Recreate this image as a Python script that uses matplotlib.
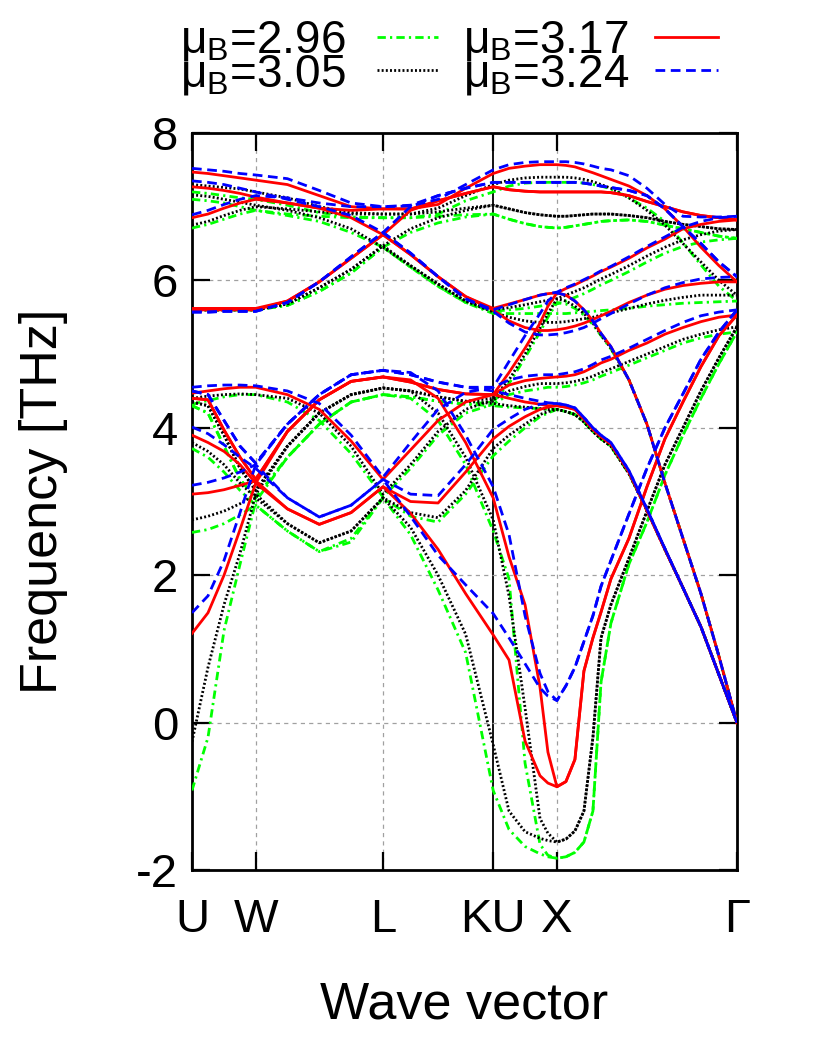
import matplotlib
matplotlib.use('Agg')
import matplotlib.pyplot as plt
from matplotlib.lines import Line2D

plt.rcParams['font.family'] = ['Liberation Sans', 'DejaVu Sans']
plt.rcParams['mathtext.fontset'] = 'custom'
plt.rcParams['mathtext.rm'] = 'Liberation Sans'
plt.rcParams['mathtext.it'] = 'Liberation Sans'
plt.rcParams['lines.scale_dashes'] = False

# ---- path (wave-vector distance, units of 2pi/a) ----
k_path = [0.0, 0.089, 0.178, 0.267, 0.354, 0.530, 0.707, 0.884, 1.061, 1.214,
          1.367, 1.520, 1.673, 1.761, 1.850, 1.933, 1.977, 2.027, 2.077, 2.127,
          2.177, 2.227, 2.272, 2.327, 2.427, 2.527, 2.627, 2.727, 2.827, 2.927, 3.027]
tick_pos = [0.0, 0.354, 1.061, 1.673, 2.027, 3.027]
tick_labels = ['U', 'W', 'L', 'KU', 'X', 'Γ']
y_ticks = [-2, 0, 2, 4, 6, 8]

# ---- phonon branches (THz) ----
bands_296 = [
    [-0.92, -0.2, 1.25, 2.15, 3.0, 3.6, 4.05, 4.35, 4.45, 4.4, 4.1, 3.5, 2.6, 1.95, -0.55, -1.65, -1.8, -1.84, -1.82, -1.76, -1.62, -1.2, 0.55, 1.35, 2.15, 2.72, 3.36, 3.9, 4.4, 4.87, 5.3],
    [2.58, 2.62, 2.7, 2.82, 2.95, 2.6, 2.32, 2.5, 3.05, 2.55, 1.8, 0.95, -0.92, -1.45, -1.68, -1.78, -1.82, -1.84, -1.82, -1.76, -1.62, -1.2, 0.55, 1.35, 2.15, 2.72, 3.36, 3.9, 4.4, 4.87, 5.3],
    [3.72, 3.6, 3.4, 3.15, 2.95, 2.6, 2.32, 2.45, 3.05, 2.8, 2.72, 3.1, 3.62, 3.82, 4.0, 4.15, 4.2, 4.25, 4.22, 4.18, 4.08, 3.95, 3.85, 3.75, 3.38, 2.88, 2.35, 1.83, 1.3, 0.65, 0.0],
    [4.3, 4.2, 3.75, 3.3, 3.05, 3.6, 4.05, 4.35, 4.45, 4.42, 4.36, 4.32, 4.3, 4.28, 4.27, 4.26, 4.25, 4.25, 4.22, 4.18, 4.08, 3.95, 3.85, 3.75, 3.38, 2.88, 2.35, 1.83, 1.3, 0.65, 0.0],
    [4.32, 4.37, 4.42, 4.45, 4.45, 4.35, 4.1, 3.65, 3.06, 3.45, 3.9, 4.2, 4.32, 4.45, 4.5, 4.53, 4.55, 4.55, 4.56, 4.58, 4.61, 4.65, 4.7, 4.75, 4.85, 4.95, 5.05, 5.15, 5.22, 5.27, 5.3],
    [4.3, 4.2, 3.75, 3.3, 3.05, 3.6, 4.05, 4.35, 4.45, 4.42, 4.36, 4.32, 4.35, 4.6, 4.95, 5.3, 5.5, 5.7, 5.68, 5.62, 5.53, 5.4, 5.25, 5.07, 4.65, 4.05, 3.25, 2.5, 1.75, 0.9, 0.0],
    [7.2, 7.18, 7.15, 7.12, 7.1, 7.02, 6.92, 6.86, 6.85, 6.85, 6.9, 7.08, 7.2, 7.28, 7.32, 7.33, 7.33, 7.33, 7.33, 7.33, 7.32, 7.3, 7.28, 7.24, 7.12, 6.98, 6.8, 6.51, 6.21, 5.92, 5.72],
    [7.1, 7.08, 7.05, 7.0, 6.95, 6.88, 6.8, 6.65, 6.45, 6.18, 5.92, 5.7, 5.55, 5.55, 5.55, 5.55, 5.55, 5.55, 5.55, 5.56, 5.57, 5.58, 5.59, 5.6, 5.62, 5.65, 5.67, 5.69, 5.7, 5.71, 5.72],
    [5.6, 5.6, 5.6, 5.6, 5.6, 5.66, 5.85, 6.1, 6.45, 6.65, 6.78, 6.86, 6.9, 6.83, 6.77, 6.73, 6.72, 6.71, 6.72, 6.74, 6.76, 6.78, 6.8, 6.81, 6.82, 6.8, 6.75, 6.7, 6.65, 6.6, 6.57],
    [5.6, 5.6, 5.6, 5.6, 5.6, 5.66, 5.85, 6.1, 6.45, 6.18, 5.92, 5.7, 5.58, 5.6, 5.62, 5.65, 5.67, 5.68, 5.72, 5.77, 5.82, 5.88, 5.94, 6.0, 6.12, 6.25, 6.37, 6.46, 6.52, 6.55, 6.57],
    [6.71, 6.76, 6.83, 6.9, 6.95, 6.9, 6.87, 6.85, 6.85, 6.85, 6.87, 6.89, 6.9, 6.83, 6.77, 6.73, 6.72, 6.71, 6.72, 6.74, 6.76, 6.78, 6.8, 6.81, 6.82, 6.8, 6.75, 6.7, 6.65, 6.6, 6.57],
]

bands_305 = [
    [-0.26, 0.75, 1.6, 2.3, 3.1, 3.75, 4.2, 4.45, 4.54, 4.5, 4.2, 3.6, 2.75, 1.72, 0.2, -1.3, -1.5, -1.62, -1.58, -1.47, -1.2, -0.2, 1.15, 1.6, 2.23, 2.87, 3.5, 4.0, 4.5, 4.95, 5.37],
    [2.75, 2.8, 2.87, 2.97, 3.1, 2.7, 2.44, 2.6, 3.05, 2.65, 2.0, 1.2, -0.3, -1.2, -1.48, -1.57, -1.6, -1.62, -1.58, -1.47, -1.2, -0.2, 1.15, 1.6, 2.23, 2.87, 3.5, 4.0, 4.5, 4.95, 5.37],
    [3.8, 3.68, 3.5, 3.25, 3.05, 2.7, 2.44, 2.6, 3.05, 2.85, 2.78, 3.15, 3.72, 3.9, 4.05, 4.18, 4.22, 4.25, 4.22, 4.18, 4.08, 3.95, 3.85, 3.75, 3.38, 2.88, 2.35, 1.83, 1.3, 0.65, 0.0],
    [4.35, 4.3, 3.9, 3.45, 3.15, 3.75, 4.2, 4.45, 4.54, 4.5, 4.42, 4.36, 4.33, 4.3, 4.28, 4.26, 4.25, 4.25, 4.22, 4.18, 4.08, 3.95, 3.85, 3.75, 3.38, 2.88, 2.35, 1.83, 1.3, 0.65, 0.0],
    [4.4, 4.43, 4.45, 4.46, 4.45, 4.4, 4.2, 3.75, 3.1, 3.5, 3.95, 4.25, 4.38, 4.5, 4.56, 4.6, 4.6, 4.6, 4.61, 4.63, 4.66, 4.7, 4.75, 4.8, 4.9, 5.0, 5.1, 5.2, 5.27, 5.33, 5.37],
    [4.35, 4.3, 3.9, 3.45, 3.15, 3.75, 4.2, 4.45, 4.54, 4.5, 4.42, 4.36, 4.4, 4.65, 5.0, 5.35, 5.55, 5.75, 5.72, 5.65, 5.55, 5.42, 5.26, 5.08, 4.65, 4.05, 3.25, 2.5, 1.75, 0.9, 0.0],
    [7.3, 7.28, 7.26, 7.24, 7.2, 7.12, 7.0, 6.92, 6.9, 6.9, 6.98, 7.15, 7.3, 7.36, 7.39, 7.4, 7.4, 7.4, 7.4, 7.39, 7.37, 7.34, 7.3, 7.25, 7.12, 6.95, 6.75, 6.5, 6.25, 6.0, 5.8],
    [7.16, 7.14, 7.1, 7.06, 7.02, 6.95, 6.85, 6.7, 6.45, 6.2, 5.95, 5.72, 5.57, 5.5, 5.45, 5.43, 5.43, 5.43, 5.44, 5.46, 5.48, 5.5, 5.53, 5.56, 5.62, 5.68, 5.73, 5.77, 5.8, 5.8, 5.8],
    [5.6, 5.6, 5.6, 5.6, 5.6, 5.68, 5.9, 6.15, 6.47, 6.7, 6.85, 6.95, 7.02, 6.97, 6.92, 6.89, 6.88, 6.87, 6.87, 6.88, 6.89, 6.9, 6.9, 6.9, 6.88, 6.85, 6.8, 6.76, 6.73, 6.7, 6.69],
    [5.6, 5.6, 5.6, 5.6, 5.6, 5.68, 5.9, 6.15, 6.47, 6.2, 5.95, 5.72, 5.6, 5.63, 5.67, 5.71, 5.73, 5.75, 5.8, 5.85, 5.9, 5.96, 6.02, 6.08, 6.2, 6.33, 6.45, 6.55, 6.62, 6.67, 6.69],
    [6.75, 6.8, 6.88, 6.95, 7.0, 6.97, 6.93, 6.9, 6.9, 6.9, 6.93, 6.98, 7.02, 6.97, 6.92, 6.89, 6.88, 6.87, 6.87, 6.88, 6.89, 6.9, 6.9, 6.9, 6.88, 6.85, 6.8, 6.76, 6.73, 6.7, 6.69],
]

bands_317 = [
    [1.21, 1.49, 2.0, 2.62, 3.25, 3.95, 4.38, 4.63, 4.69, 4.65, 4.4, 3.8, 3.05, 2.25, 1.6, 0.48, -0.4, -0.87, -0.8, -0.5, 0.7, 1.15, 1.5, 1.95, 2.5, 3.2, 3.85, 4.35, 4.83, 5.25, 5.53],
    [3.1, 3.12, 3.16, 3.22, 3.28, 2.9, 2.69, 2.85, 3.2, 2.84, 2.35, 1.75, 1.19, 0.85, -0.25, -0.72, -0.82, -0.87, -0.8, -0.5, 0.7, 1.15, 1.5, 1.95, 2.5, 3.2, 3.85, 4.35, 4.83, 5.25, 5.53],
    [3.9, 3.8, 3.68, 3.5, 3.25, 2.9, 2.69, 2.85, 3.2, 3.0, 2.98, 3.4, 3.85, 4.02, 4.15, 4.25, 4.28, 4.3, 4.28, 4.25, 4.12, 3.98, 3.88, 3.78, 3.4, 2.88, 2.35, 1.83, 1.3, 0.65, 0.0],
    [4.4, 4.38, 3.97, 3.6, 3.3, 3.95, 4.38, 4.63, 4.69, 4.62, 4.52, 4.46, 4.45, 4.4, 4.35, 4.32, 4.3, 4.3, 4.28, 4.25, 4.12, 3.98, 3.88, 3.78, 3.4, 2.88, 2.35, 1.83, 1.3, 0.65, 0.0],
    [4.47, 4.5, 4.53, 4.55, 4.55, 4.45, 4.25, 3.82, 3.3, 3.7, 4.1, 4.35, 4.45, 4.58, 4.64, 4.67, 4.68, 4.69, 4.7, 4.72, 4.76, 4.82, 4.88, 4.93, 5.05, 5.15, 5.27, 5.36, 5.44, 5.5, 5.53],
    [4.4, 4.38, 3.97, 3.6, 3.3, 3.95, 4.38, 4.63, 4.69, 4.62, 4.52, 4.46, 4.45, 4.75, 5.08, 5.42, 5.65, 5.83, 5.8, 5.72, 5.6, 5.45, 5.28, 5.1, 4.65, 4.05, 3.25, 2.5, 1.75, 0.9, 0.0],
    [7.47, 7.45, 7.42, 7.39, 7.36, 7.3, 7.15, 7.0, 6.97, 6.97, 7.03, 7.25, 7.45, 7.52, 7.55, 7.57, 7.57, 7.57, 7.56, 7.54, 7.5, 7.46, 7.42, 7.37, 7.28, 7.15, 6.97, 6.73, 6.45, 6.2, 5.98],
    [7.27, 7.25, 7.22, 7.18, 7.13, 7.05, 6.98, 6.85, 6.62, 6.35, 6.05, 5.78, 5.6, 5.45, 5.36, 5.32, 5.32, 5.33, 5.35, 5.38, 5.42, 5.47, 5.52, 5.58, 5.7, 5.8, 5.88, 5.93, 5.96, 5.98, 5.98],
    [5.62, 5.62, 5.62, 5.62, 5.62, 5.72, 5.98, 6.3, 6.62, 6.95, 7.08, 7.18, 7.27, 7.23, 7.21, 7.2, 7.2, 7.2, 7.2, 7.2, 7.2, 7.2, 7.2, 7.19, 7.15, 7.07, 7.0, 6.93, 6.88, 6.85, 6.82],
    [5.6, 5.6, 5.6, 5.6, 5.6, 5.72, 5.98, 6.3, 6.62, 6.35, 6.05, 5.78, 5.62, 5.68, 5.74, 5.8, 5.82, 5.83, 5.89, 5.94, 6.0, 6.06, 6.12, 6.18, 6.3, 6.44, 6.56, 6.7, 6.76, 6.8, 6.82],
    [6.85, 6.9, 6.98, 7.05, 7.1, 7.05, 6.98, 6.95, 6.97, 6.97, 7.08, 7.18, 7.27, 7.23, 7.21, 7.2, 7.2, 7.2, 7.2, 7.2, 7.2, 7.2, 7.2, 7.19, 7.15, 7.07, 7.0, 6.93, 6.88, 6.85, 6.82],
]

bands_324 = [
    [1.49, 1.72, 2.2, 2.85, 3.5, 4.05, 4.45, 4.72, 4.78, 4.75, 4.5, 3.9, 3.2, 2.55, 1.45, 0.67, 0.42, 0.3, 0.5, 0.75, 1.1, 1.45, 1.85, 2.2, 2.83, 3.45, 4.0, 4.46, 4.93, 5.3, 5.6],
    [3.22, 3.26, 3.32, 3.4, 3.5, 3.05, 2.79, 2.95, 3.3, 2.8, 2.27, 1.87, 1.48, 1.15, 0.8, 0.47, 0.36, 0.3, 0.5, 0.75, 1.1, 1.45, 1.85, 2.2, 2.83, 3.45, 4.0, 4.46, 4.93, 5.3, 5.6],
    [4.01, 3.92, 3.77, 3.6, 3.45, 3.05, 2.79, 2.95, 3.3, 3.1, 3.08, 3.5, 3.98, 4.12, 4.25, 4.32, 4.33, 4.33, 4.31, 4.27, 4.14, 4.0, 3.9, 3.8, 3.42, 2.9, 2.36, 1.83, 1.3, 0.65, 0.0],
    [4.5, 4.45, 4.1, 3.75, 3.52, 4.05, 4.45, 4.72, 4.78, 4.72, 4.62, 4.55, 4.5, 4.45, 4.4, 4.36, 4.34, 4.33, 4.31, 4.27, 4.14, 4.0, 3.9, 3.8, 3.42, 2.9, 2.36, 1.83, 1.3, 0.65, 0.0],
    [4.55, 4.57, 4.58, 4.58, 4.57, 4.5, 4.33, 3.9, 3.33, 3.8, 4.25, 4.48, 4.55, 4.65, 4.7, 4.72, 4.72, 4.72, 4.74, 4.76, 4.8, 4.86, 4.92, 4.97, 5.08, 5.2, 5.32, 5.43, 5.52, 5.57, 5.6],
    [4.5, 4.45, 4.1, 3.75, 3.52, 4.05, 4.45, 4.72, 4.78, 4.72, 4.62, 4.55, 4.55, 4.9, 5.25, 5.55, 5.72, 5.83, 5.8, 5.72, 5.6, 5.45, 5.28, 5.1, 4.65, 4.05, 3.25, 2.5, 1.75, 0.9, 0.0],
    [7.52, 7.5, 7.48, 7.45, 7.43, 7.38, 7.22, 7.05, 7.0, 7.01, 7.1, 7.3, 7.5, 7.57, 7.6, 7.61, 7.61, 7.61, 7.61, 7.6, 7.58, 7.55, 7.52, 7.5, 7.42, 7.25, 7.03, 6.87, 6.86, 6.86, 6.87],
    [7.35, 7.33, 7.3, 7.25, 7.2, 7.1, 7.0, 6.88, 6.65, 6.37, 6.05, 5.75, 5.58, 5.42, 5.3, 5.26, 5.26, 5.27, 5.29, 5.32, 5.36, 5.42, 5.48, 5.55, 5.68, 5.8, 5.9, 5.97, 6.02, 6.04, 6.05],
    [5.57, 5.57, 5.58, 5.58, 5.58, 5.7, 5.98, 6.32, 6.65, 7.0, 7.15, 7.25, 7.33, 7.33, 7.33, 7.33, 7.33, 7.33, 7.33, 7.33, 7.32, 7.3, 7.28, 7.26, 7.22, 7.15, 6.97, 6.73, 6.5, 6.25, 6.05],
    [5.57, 5.57, 5.58, 5.58, 5.58, 5.7, 5.98, 6.32, 6.65, 6.37, 6.05, 5.75, 5.6, 5.67, 5.74, 5.8, 5.82, 5.84, 5.9, 5.95, 6.01, 6.07, 6.13, 6.19, 6.32, 6.46, 6.59, 6.72, 6.8, 6.85, 6.87],
    [6.89, 6.95, 7.03, 7.1, 7.15, 7.12, 7.05, 7.0, 7.0, 7.02, 7.15, 7.25, 7.33, 7.33, 7.33, 7.33, 7.33, 7.33, 7.33, 7.33, 7.32, 7.3, 7.28, 7.26, 7.22, 7.15, 6.97, 6.73, 6.5, 6.25, 6.05],
]

series_labels = ['2.96', '3.05', '3.17', '3.24']
series_bands = [bands_296, bands_305, bands_317, bands_324]
series_colors = ['#00ff00', '#000000', '#ff0000', '#0000ff']
series_dashes = [(6, 3, 1.6, 3), (1.4, 1.6), None, (7, 4)]

fig = plt.figure(figsize=(8.3, 10.38), dpi=100)
ax = fig.add_axes([0.2313, 0.1618, 0.6566, 0.7101])

# grid
for xp in tick_pos[1:-1]:
    if xp == tick_pos[3]:
        ax.axvline(xp, color='black', lw=1.3, zorder=1)
    else:
        ax.axvline(xp, color='#a0a0a0', lw=0.9, dashes=(3, 3), zorder=1)
for yv in y_ticks[1:-1]:
    ax.axhline(yv, color='#a0a0a0', lw=0.9, dashes=(3, 3), zorder=1)

for bands, col, dsh in zip(series_bands, series_colors, series_dashes):
    for b in bands:
        line, = ax.plot(k_path, b, color=col, lw=2.0, zorder=3,
                        solid_joinstyle='round', dash_capstyle='butt')
        if dsh is not None:
            line.set_dashes(dsh)

ax.set_xlim(0, 3.027)
ax.set_ylim(-2, 8)
ax.set_xticks(tick_pos)
ax.set_xticklabels(tick_labels)
ax.set_yticks(y_ticks)
ax.set_yticklabels([str(v) for v in y_ticks])
ax.tick_params(axis='both', direction='in', labelsize=34, width=1.6, length=13,
               top=True, right=True)
ax.tick_params(axis='x', pad=20)
ax.tick_params(axis='y', pad=10)
for sp in ax.spines.values():
    sp.set_linewidth(2.0)

ax.set_ylabel('Frequency [THz]', fontsize=37.5)
ax.yaxis.set_label_coords(-0.228, 0.5)
ax.set_xlabel('Wave vector', fontsize=37.5)
ax.xaxis.set_label_coords(0.5, -0.15)

# legend: two columns, each column one two-line text block
col_text_x = [0.217, 0.558]
col_lines_x = [(0.454, 0.528), (0.789, 0.865)]
row_line_y = [0.964, 0.933]
for c in range(2):
    labs = series_labels[2 * c:2 * c + 2]
    txt = '\n'.join(r'μ$_{\mathrm{B}}$=' + lab for lab in labs)
    fig.text(col_text_x[c], 0.982, txt, fontsize=33, va='top', ha='left',
             linespacing=0.7)
    for r in range(2):
        i = 2 * c + r
        ln = Line2D(col_lines_x[c], [row_line_y[r]] * 2, transform=fig.transFigure,
                    color=series_colors[i], lw=2.0, dash_capstyle='butt')
        if series_dashes[i] is not None:
            ln.set_dashes(series_dashes[i])
        fig.add_artist(ln)

fig.savefig('out.png', dpi=100)
